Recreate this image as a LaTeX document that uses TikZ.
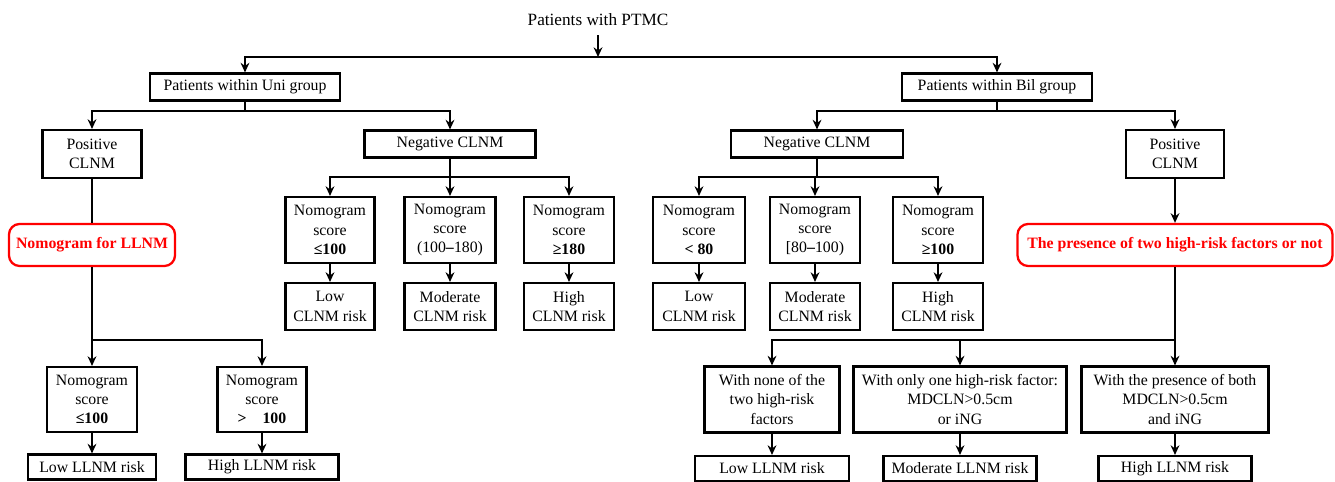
\documentclass[tikz,border=0pt]{standalone}
\usepackage{fontspec}
\setmainfont{Liberation Serif}
\usetikzlibrary{arrows.meta}

\begin{document}
\begin{tikzpicture}[x=0.02cm, y=-0.02cm,
		every node/.style={font=\fontsize{9}{11}\selectfont, align=center, inner sep=0pt},
		box/.style={draw=black, line width=1.2pt},
		riskbox/.style={draw=red, line width=1.3pt, rounded corners=6pt, text=red, font=\fontsize{9}{11}\selectfont\bfseries},
		wh/.style 2 args={minimum width=#1*\px, minimum height=#2*\px},
		link/.style={line width=1.2pt},
		arr/.style={line width=1.2pt, -{Stealth[length=5.5pt, width=5pt, inset=1.8pt]}}]
		\def\px{0.02cm}
		\useasboundingbox (0, 0) rectangle (1335, 482);
		\node[wh={150}{30}, font=\fontsize{9.8}{11}\selectfont] (ptmc) at (598, 20) {Patients with PTMC};
		\node[box, wh={190}{27}] (uni) at (245, 87) {Patients within Uni group};
		\node[box, wh={190}{27}] (bil) at (997, 87) {Patients within Bil group};
		\node[box, wh={99}{48}] (posu) at (92, 154) {Positive\\CLNM};
		\node[box, wh={171}{27}] (negu) at (450, 144) {Negative CLNM};
		\node[box, wh={172}{27}] (negb) at (817, 144) {Negative CLNM};
		\node[box, wh={98}{48}] (posb) at (1175, 154) {Positive\\CLNM};
		\node[riskbox, wh={166}{42}] (llnmu) at (92, 245) {Nomogram for LLNM};
		\node[riskbox, wh={315}{42}] (llnmb) at (1175, 245) {The presence of two high-risk factors or not};
		\node[box, wh={89}{66}] (ua) at (330, 230) {Nomogram\\score\\\textbf{≤100}};
		\node[box, wh={91}{66}] (ub) at (450, 230) {Nomogram\\score\\(100\textbf{–}180)};
		\node[box, wh={90}{66}] (uc) at (569, 230) {Nomogram\\score\\\textbf{≥180}};
		\node[box, wh={89}{47}] (uar) at (330, 306.5) {Low\\CLNM risk};
		\node[box, wh={91}{47}] (ubr) at (450, 306.5) {Moderate\\CLNM risk};
		\node[box, wh={90}{47}] (ucr) at (569, 306.5) {High\\CLNM risk};
		\node[box, wh={92}{66}] (bd) at (699, 230) {Nomogram\\score\\\textbf{< 80}};
		\node[box, wh={90}{66}] (be) at (815, 230) {Nomogram\\score\\{[}80\textbf{–}100)};
		\node[box, wh={90}{66}] (bf) at (938, 230) {Nomogram\\score\\\textbf{≥100}};
		\node[box, wh={92}{47}] (bdr) at (699, 306.5) {Low\\CLNM risk};
		\node[box, wh={90}{47}] (ber) at (815, 306.5) {Moderate\\CLNM risk};
		\node[box, wh={90}{47}] (bfr) at (938, 306.5) {High\\CLNM risk};
		\node[box, wh={90}{65}] (la) at (92, 399.5) {Nomogram\\score\\\textbf{≤100}};
		\node[box, wh={89}{65}] (lb) at (262, 399.5) {Nomogram\\score\\\textbf{>\quad100}};
		\node[box, wh={128}{25}] (lar) at (92, 467) {Low LLNM risk};
		\node[box, wh={153}{25}] (lbr) at (262, 467) {High LLNM risk};
		\node[box, wh={135}{66}] (ra) at (772, 399.5) {With none of the\\two high-risk\\factors};
		\node[box, wh={213}{66}] (rb) at (960, 399.5) {With only one high-risk factor:\\MDCLN>0.5cm\\or iNG};
		\node[box, wh={187}{66}] (rc) at (1175, 399.5) {With the presence of both\\MDCLN>0.5cm\\and iNG};
		\node[box, wh={154}{25}] (rar) at (772, 468.5) {Low LLNM risk};
		\node[box, wh={153}{25}] (rbr) at (960, 468.5) {Moderate LLNM risk};
		\node[box, wh={153}{25}] (rcr) at (1175, 468.5) {High LLNM risk};
		\coordinate (j0) at (598, 57);
		\coordinate (ju) at (245, 111);
		\coordinate (jb) at (997, 111);
		\coordinate (jnu) at (450, 177);
		\coordinate (jnb) at (817, 177);
		\coordinate (jl) at (92, 340);
		\coordinate (jr) at (1175, 340);
		\draw[arr] (ptmc) -- (j0);
		\draw[arr] (j0) -| (uni);
		\draw[arr] (j0) -| (bil);
		\draw[link] (uni) -- (ju);
		\draw[arr] (ju) -| (posu);
		\draw[arr] (ju) -| (negu);
		\draw[link] (bil) -- (jb);
		\draw[arr] (jb) -| (negb);
		\draw[arr] (jb) -| (posb);
		\draw[link] (negu) -- (jnu);
		\draw[arr] (jnu) -| (ua);
		\draw[arr] (jnu) -| (ub);
		\draw[arr] (jnu) -| (uc);
		\draw[arr] (ua) -- (uar);
		\draw[arr] (ub) -- (ubr);
		\draw[arr] (uc) -- (ucr);
		\draw[link] (negb) -- (jnb);
		\draw[arr] (jnb) -| (bd);
		\draw[arr] (jnb) -| (be);
		\draw[arr] (jnb) -| (bf);
		\draw[arr] (bd) -- (bdr);
		\draw[arr] (be) -- (ber);
		\draw[arr] (bf) -- (bfr);
		\draw[link] (posu) -- (llnmu);
		\draw[link] (llnmu) -- (jl);
		\draw[arr] (jl) -| (la);
		\draw[arr] (jl) -| (lb);
		\draw[arr] (la) -- (lar);
		\draw[arr] (lb) -- (lbr);
		\draw[arr] (posb) -- (llnmb);
		\draw[link] (llnmb) -- (jr);
		\draw[arr] (jr) -| (ra);
		\draw[arr] (jr) -| (rb);
		\draw[arr] (jr) -| (rc);
		\draw[arr] (ra) -- (rar);
		\draw[arr] (rb) -- (rbr);
		\draw[arr] (rc) -- (rcr);
	\end{tikzpicture}
\end{document}
